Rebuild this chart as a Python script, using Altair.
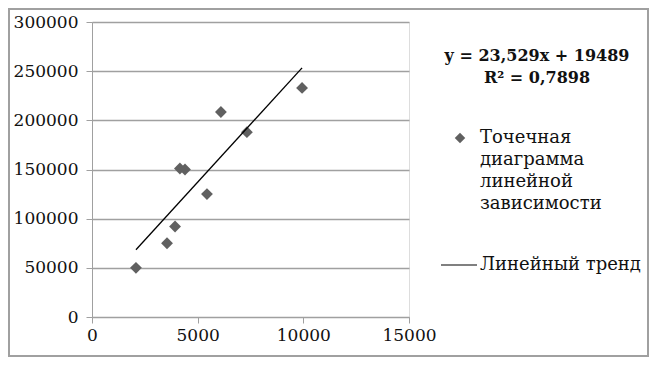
import altair as alt
import pandas as pd

x_vals = [2080, 3550, 3930, 4160, 4400, 5440, 6100, 7330, 9940]
y_vals = [50000, 75000, 92000, 151000, 150000, 125000, 208500, 188000, 233000]

slope = 23.529
intercept = 19489
eq_lines = ["y = 23,529x + 19489", "R² = 0,7898"]
scatter_legend = ["Точечная", "диаграмма", "линейной", "зависимости"]
trend_legend = "Линейный тренд"

x_ticks = [0, 5000, 10000, 15000]
y_ticks = [0, 50000, 100000, 150000, 200000, 250000, 300000]

FONT = "DejaVu Serif"
FS = 17
LFS = 18
W, H = 317, 295
PL, PT = 84, 14
TOTW, TOTH = 641, 349

pts = pd.DataFrame({"x": x_vals, "y": y_vals})
xs = [min(x_vals), max(x_vals)]
trend = pd.DataFrame({"x": xs, "y": [slope * v + intercept for v in xs]})

xscale = alt.Scale(domain=[0, 15000], nice=False, zero=False)
yscale = alt.Scale(domain=[0, 300000], nice=False, zero=False)

xaxis = alt.Axis(values=x_ticks, grid=False, domainColor="#a0a0a0", tickColor="#a0a0a0",
                 tickSize=6, labelFont=FONT, labelFontSize=FS, labelColor="#111",
                 labelPadding=4, title=None, labelFlush=False, format="d")
yaxis = alt.Axis(values=y_ticks, grid=True, gridColor="#a0a0a0", gridWidth=1.5,
                 domainColor="#a0a0a0", tickColor="#a0a0a0", tickSize=6,
                 labelFont=FONT, labelFontSize=FS, labelColor="#111",
                 labelPadding=8, title=None, format="d")

base_pts = alt.Chart(pts).mark_point(shape="diamond", filled=True, size=140,
                                     color="#606060", opacity=1).encode(
    x=alt.X("x:Q", scale=xscale, axis=xaxis),
    y=alt.Y("y:Q", scale=yscale, axis=yaxis),
)

line = alt.Chart(trend).mark_line(color="#000", strokeWidth=1.3).encode(
    x=alt.X("x:Q", scale=xscale),
    y=alt.Y("y:Q", scale=yscale),
)

one = pd.DataFrame({"a": [0]})

eq_df = pd.DataFrame({"t": eq_lines, "yy": [34, 56]})
eq = alt.Chart(eq_df).mark_text(font=FONT, fontSize=16, fontWeight="bold",
                                align="center", baseline="middle", color="#111").encode(
    x=alt.value(445), y=alt.Y("yy:Q", scale=None), text="t:N"
)

sl_df = pd.DataFrame({"t": scatter_legend, "yy": [116, 138, 160, 182]})
sl = alt.Chart(sl_df).mark_text(font=FONT, fontSize=LFS, align="left",
                                baseline="middle", color="#111").encode(
    x=alt.value(388), y=alt.Y("yy:Q", scale=None), text="t:N"
)

sym = alt.Chart(one).mark_point(shape="diamond", filled=True, size=110,
                                color="#606060", opacity=1).encode(
    x=alt.value(368), y=alt.value(116)
)

lsym = alt.Chart(one).mark_rule(color="#808080", strokeWidth=2).encode(
    x=alt.value(349), x2=alt.value(385), y=alt.value(243)
)

tl = alt.Chart(pd.DataFrame({"t": [trend_legend]})).mark_text(
    font=FONT, fontSize=LFS, align="left", baseline="middle", color="#111").encode(
    x=alt.value(388), y=alt.value(243), text="t:N"
)

border = alt.Chart(one).mark_rect(fill=None, stroke="#a0a0a0", strokeWidth=2).encode(
    x=alt.value(-PL + 1), x2=alt.value(TOTW - PL - 1),
    y=alt.value(-PT + 1), y2=alt.value(TOTH - PT - 1)
)

chart = alt.layer(border, base_pts, line, eq, sl, sym, lsym, tl).properties(
    width=W, height=H,
    autosize=alt.AutoSizeParams(type="none"),
    padding={"left": PL, "top": PT, "right": TOTW - PL - W, "bottom": TOTH - PT - H},
).configure_view(stroke=None).configure(background="white")

chart.save("out.html", embed_options={"renderer": "svg", "actions": False})
